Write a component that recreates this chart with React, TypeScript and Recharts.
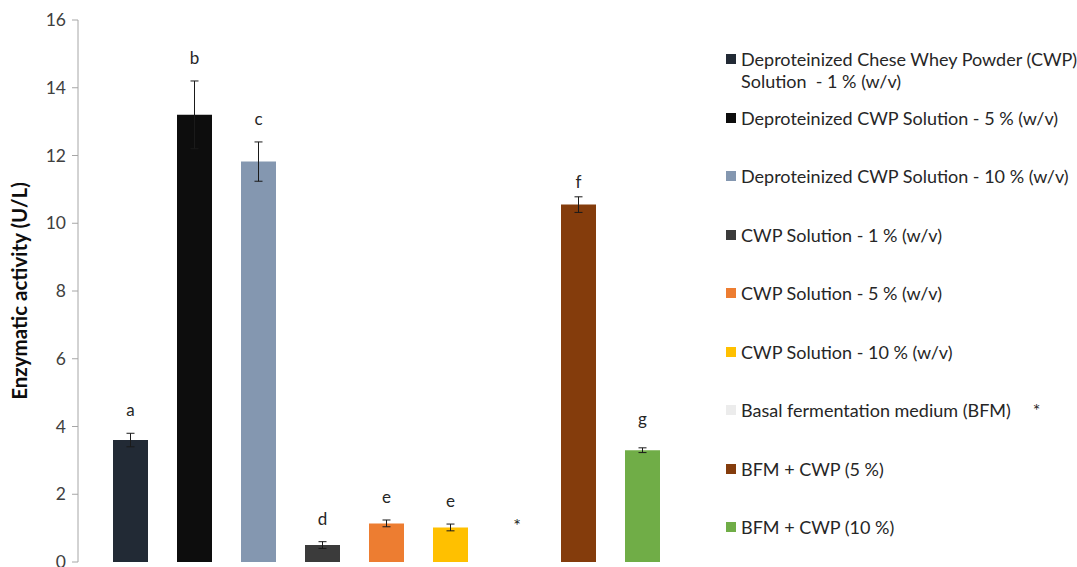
import React from "react";
import {
  BarChart,
  Bar,
  Cell,
  XAxis,
  YAxis,
  ErrorBar,
  LabelList,
  Legend,
  Label,
  ReferenceDot,
} from "recharts";

// Treatments (legend entries, one bar each)
const treatments = [
  "Deproteinized Chese Whey Powder (CWP)\nSolution  - 1 % (w/v)",
  "Deproteinized CWP Solution - 5 % (w/v)",
  "Deproteinized CWP Solution - 10 % (w/v)",
  "CWP Solution - 1 % (w/v)",
  "CWP Solution - 5 % (w/v)",
  "CWP Solution - 10 % (w/v)",
  "Basal fermentation medium (BFM)",
  "BFM + CWP (5 %)",
  "BFM + CWP (10 %)",
];

// Enzymatic activity (U/L) and standard deviation
const activity = [3.6, 13.2, 11.82, 0.5, 1.14, 1.02, 0, 10.55, 3.3];
const deviation = [0.2, 1.0, 0.58, 0.1, 0.1, 0.1, null, 0.23, 0.07];

// Significance letters ("*" = no activity detected)
const groups = ["a", "b", "c", "d", "e", "e", "*", "f", "g"];

const colors = [
  "#222a35",
  "#0d0d0d",
  "#8497b0",
  "#3b3b3b",
  "#ed7d31",
  "#ffc000",
  "#ececec",
  "#843c0c",
  "#70ad47",
];

const yTicks = [0, 2, 4, 6, 8, 10, 12, 14, 16];

const data = treatments.map((name, i) => ({
  name,
  activity: activity[i],
  sd: deviation[i],
  group: groups[i],
}));

const WIDTH = 1077;
const HEIGHT = 567;
const LEGEND_W = 383;
const MARGIN = { top: 20, right: 0, bottom: 5, left: 0 };
const Y_MAX = 16;
const PLOT_H = HEIGHT - MARGIN.top - MARGIN.bottom;
const PX_PER_UNIT = PLOT_H / Y_MAX;

const FONT = "Lato, 'Open Sans', sans-serif";
const LETTER_STYLE = { fontFamily: FONT, fontSize: 17 };

const GroupLabel = (props: any) => {
  const { x, y, width, index, value } = props;
  if (value === "*") return null;
  const sd = deviation[index] ?? 0;
  const top = y - sd * PX_PER_UNIT;
  return (
    <text x={x + width / 2} y={top - 17} textAnchor="middle" fill="#262626" {...LETTER_STYLE}>
      {value}
    </text>
  );
};

// "*" marker for the treatment without measurable activity
const markerIndex = groups.indexOf("*");
const MarkerLabel = (props: any) => {
  const { viewBox } = props;
  const cx = viewBox.x + (viewBox.width ?? 0) / 2;
  const cy = viewBox.y + (viewBox.height ?? 0) / 2;
  return (
    <text x={cx + 3} y={cy - 30} textAnchor="middle" fill="#1a1a1a" fontFamily={FONT} fontSize={18}>
      *
    </text>
  );
};

const LegendContent = () => (
  <div style={{ position: "relative", width: LEGEND_W, height: HEIGHT - MARGIN.top, fontFamily: FONT }}>
    {treatments.map((t, i) => (
      <div
        key={i}
        style={{
          position: "absolute",
          left: 32,
          top: 48 + 58.5 * i - MARGIN.top,
          display: "flex",
          alignItems: "flex-start",
          fontSize: 18,
          lineHeight: "22px",
          color: "#262626",
          whiteSpace: "pre",
        }}
      >
        <span
          style={{
            display: "inline-block",
            width: 10,
            height: 10,
            marginTop: 6,
            marginRight: 5,
            background: colors[i],
          }}
        />
        <span>{t}</span>
        {groups[i] === "*" && <span style={{ marginLeft: 22 }}>*</span>}
      </div>
    ))}
  </div>
);

export default function App() {
  return (
    <div style={{ position: "absolute", left: 0, top: 0, background: "#fff" }}>
      <BarChart width={WIDTH} height={HEIGHT} data={data} margin={MARGIN}>
        <XAxis
          dataKey="name"
          tick={false}
          tickLine={false}
          height={0}
          padding={{ left: 20, right: 20 }}
          axisLine={{ stroke: "#a6a6a6" }}
        />
        <YAxis
          width={78}
          domain={[0, Y_MAX]}
          ticks={yTicks}
          interval={0}
          tickSize={6}
          tickMargin={6}
          axisLine={{ stroke: "#a6a6a6" }}
          tickLine={{ stroke: "#a6a6a6" }}
          tick={{ fontFamily: FONT, fontSize: 17.5, fill: "#404040" }}
        >
          <Label
            value="Enzymatic activity (U/L)"
            angle={-90}
            position="insideLeft"
            offset={20}
            style={{
              textAnchor: "middle",
              fontFamily: FONT,
              fontSize: 20.5,
              fontWeight: 700,
              fill: "#0d0d0d",
            }}
          />
        </YAxis>
        <Legend
          layout="vertical"
          align="right"
          verticalAlign="top"
          width={LEGEND_W}
          content={<LegendContent />}
        />
        <Bar dataKey="activity" barSize={35} isAnimationActive={false}>
          {data.map((d, i) => (
            <Cell key={i} fill={colors[i]} />
          ))}
          <ErrorBar
            dataKey="sd"
            width={4}
            stroke="#1a1a1a"
            strokeWidth={1}
            direction="y"
          />
          <LabelList dataKey="group" content={<GroupLabel />} />
        </Bar>
        <ReferenceDot
          x={treatments[markerIndex]}
          y={activity[markerIndex]}
          r={0}
          fill="none"
          stroke="none"
          label={<MarkerLabel />}
        />
      </BarChart>
    </div>
  );
}
